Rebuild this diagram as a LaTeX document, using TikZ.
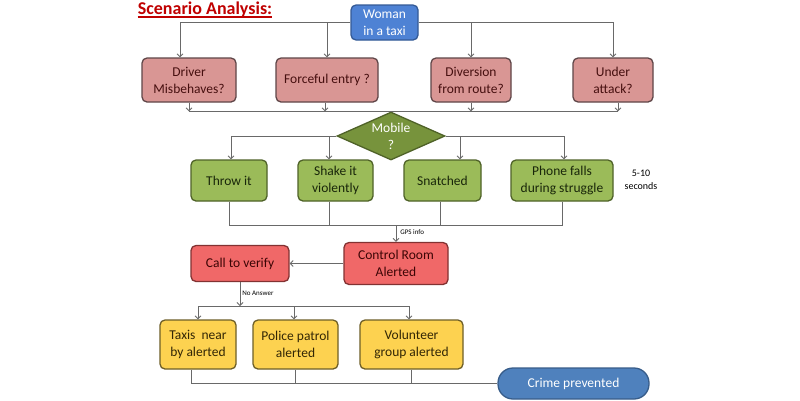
\documentclass[tikz,border=0pt]{standalone}
\usepackage{fontspec}
\setmainfont{Carlito}
\usetikzlibrary{shapes.geometric,arrows.meta}
\definecolor{blueA}{RGB}{78,130,212}
\definecolor{blueB}{RGB}{52,90,150}
\definecolor{pinkF}{RGB}{217,150,148}
\definecolor{pinkB}{RGB}{95,70,72}
\definecolor{pinkT}{RGB}{70,15,15}
\definecolor{greenF}{RGB}{155,187,89}
\definecolor{greenB}{RGB}{79,98,40}
\definecolor{greenT}{RGB}{25,38,10}
\definecolor{diaF}{RGB}{119,147,60}
\definecolor{redF}{RGB}{240,104,104}
\definecolor{redB}{RGB}{130,50,50}
\definecolor{redT}{RGB}{60,5,5}
\definecolor{yelF}{RGB}{253,210,80}
\definecolor{yelB}{RGB}{110,95,40}
\definecolor{yelT}{RGB}{50,38,5}
\definecolor{crimeF}{RGB}{79,129,189}
\definecolor{crimeB}{RGB}{56,93,138}
\definecolor{lineC}{RGB}{105,105,105}
\definecolor{titleC}{RGB}{192,0,0}
\tikzset{
  box/.style={draw, line width=1.3pt, rounded corners=5pt, align=center, inner sep=0pt, font=\fontsize{13.5}{17}\selectfont},
  bluebox/.style={box, fill=blueA, draw=blueB, text=white},
  pinkbox/.style={box, fill=pinkF, draw=pinkB, text=pinkT},
  greenbox/.style={box, fill=greenF, draw=greenB, text=greenT},
  redbox/.style={box, fill=redF, draw=redB, text=redT},
  yelbox/.style={box, fill=yelF, draw=yelB, text=yelT},
  conn/.style={draw=lineC, line width=0.8pt},
  arr/.style={conn, -{Straight Barb[length=3pt,width=6pt]}},
  small/.style={font=\fontsize{7}{8}\selectfont, text=black, inner sep=0pt}
}
\begin{document}
\begin{tikzpicture}[x=1pt,y=-1pt]
\useasboundingbox[fill=white] (0,0) rectangle (800,400);
% title
\node[font=\fontsize{18}{20}\selectfont\bfseries, text=titleC, inner sep=0pt] (title) at (205,10) {Scenario Analysis:};
\draw[titleC, line width=1.2pt] ([yshift=1pt]title.south west) -- ([yshift=1pt]title.south east);
% top
\node[bluebox, minimum width=67pt, minimum height=35pt] (woman) at (384.5,22.5) {Woman\\in a taxi};
\node[pinkbox, minimum width=94pt, minimum height=44pt] (driver) at (189,80) {Driver\\Misbehaves?};
\node[pinkbox, minimum width=102pt, minimum height=44pt] (forceful) at (327,80) {Forceful entry ?};
\node[pinkbox, minimum width=80pt, minimum height=44pt] (diversion) at (471,80) {Diversion\\from route?};
\node[pinkbox, minimum width=80pt, minimum height=44pt] (under) at (613,80) {Under\\attack?};
\draw[arr] (woman.west) -| ([xshift=-9pt]driver.north);
\draw[arr] (woman.west) -| (forceful.north);
\draw[arr] (woman.east) -| (diversion.north);
\draw[arr] (woman.east) -| (under.north);
% diamond
\node[diamond, aspect=2.25, draw=greenB, line width=1.3pt, fill=diaF, text=white, minimum width=108pt, minimum height=48pt, inner sep=0pt, align=center, font=\fontsize{13.5}{17}\selectfont] (mobile) at (391,136) {Mobile\\?};
\draw[arr] (driver.south) -- (driver.south |- mobile.north);
\draw[arr] ([xshift=-2pt]forceful.south) -- ([xshift=-2pt]forceful.south |- mobile.north);
\draw[arr] (diversion.south) -- (diversion.south |- mobile.north);
\draw[arr] ([xshift=5pt]under.south) -- ([xshift=5pt]under.south |- mobile.north);
\draw[conn] (driver.south |- mobile.north) -- ([xshift=5pt]under.south |- mobile.north);
% green row
\node[greenbox, minimum width=76pt, minimum height=41pt] (throw) at (229,180.5) {Throw it};
\node[greenbox, minimum width=75pt, minimum height=41pt] (shake) at (335.5,180.5) {Shake it\\violently};
\node[greenbox, minimum width=77pt, minimum height=41pt] (snatched) at (442.5,180.5) {Snatched};
\node[greenbox, minimum width=102pt, minimum height=41pt] (phone) at (562,180.5) {Phone falls\\during struggle};
\node[font=\fontsize{10}{13}\selectfont, align=center, inner sep=0pt] (secs) at (641,180) {5-10\\seconds};
\draw[arr] (mobile.west) -| ([xshift=2pt]throw.north);
\draw[arr] (mobile.west) -| ([xshift=-6.5pt]shake.north);
\draw[arr] (mobile.east) -| ([xshift=17.5pt]snatched.north);
\draw[arr] (mobile.east) -| ([xshift=2pt]phone.north);
% control room
\coordinate (gps) at (396,225);
\node[redbox, minimum width=104pt, minimum height=42pt] (control) at (396,263.5) {Control Room\\Alerted};
\node[redbox, minimum width=98pt, minimum height=36pt] (call) at (240,263.5) {Call to verify};
\draw[conn] (throw.south) |- (gps);
\draw[conn] (phone.south) |- (gps);
\draw[conn] ([xshift=-6.5pt]shake.south) -- ([xshift=-6.5pt]shake.south |- gps);
\draw[conn] ([xshift=-2.5pt]snatched.south) -- ([xshift=-2.5pt]snatched.south |- gps);
\draw[arr] (gps) -- (control.north) node[small, anchor=west, pos=0.45, xshift=4pt] (gpslbl) {GPS info};
\draw[arr] (control.west) -- (call.east);
% yellow row
\coordinate (na) at (240,306);
\node[yelbox, minimum width=76pt, minimum height=49pt] (taxis) at (198,344.5) {Taxis~ near\\by alerted};
\node[yelbox, minimum width=85pt, minimum height=49pt] (police) at (295.5,344.5) {Police patrol\\alerted};
\node[yelbox, minimum width=103pt, minimum height=49pt] (volunteer) at (411.5,344.5) {Volunteer\\group alerted};
\draw[arr] (call.south) -- (na) node[small, anchor=west, pos=0.45, xshift=2pt] (nalbl) {No Answer};
\draw[arr] (na) -| (taxis.north);
\draw[arr] (na) -| ([xshift=-1.5pt]police.north);
\draw[arr] (na) -| ([xshift=-2.5pt]volunteer.north);
% crime prevented
\node[draw=crimeB, fill=crimeF, line width=1.3pt, rounded corners=15pt, minimum width=151pt, minimum height=31pt, inner sep=0pt, text=white, font=\fontsize{13.5}{17}\selectfont] (crime) at (573.5,383.5) {Crime prevented};
\draw[conn] ([xshift=-7pt]taxis.south) |- (crime.west);
\draw[conn] (police.south) |- (crime.west);
\draw[conn] (volunteer.south) |- (crime.west);
\end{tikzpicture}
\end{document}
